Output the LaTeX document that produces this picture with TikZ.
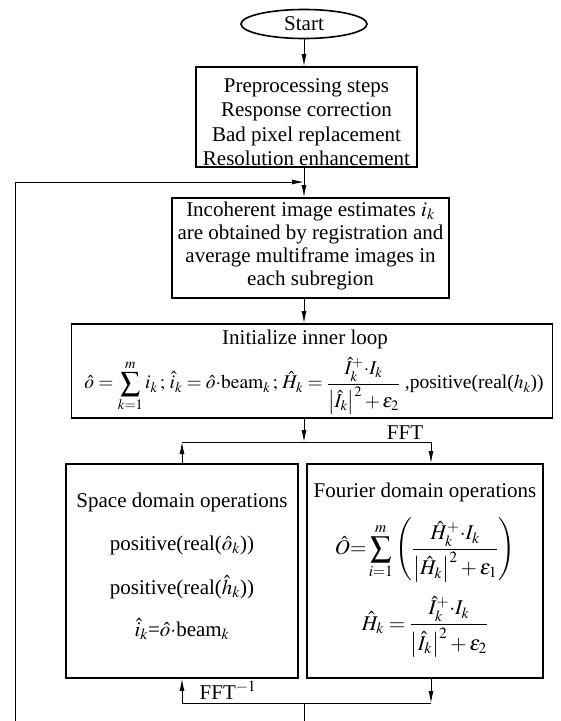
\documentclass[tikz,border=0pt]{standalone}
\usepackage{amsmath}
\usepackage{mathptmx}
\usepackage[no-math]{fontspec}
\setmainfont{Liberation Serif}
\usetikzlibrary{arrows.meta,shapes.geometric}
\tikzset{
  boxstyle/.style={draw, line width=1.8pt, rectangle, inner sep=0pt},
  txt/.style={inner sep=0pt, align=center, font=\fontsize{21}{24.5}\selectfont},
  conn/.style={line width=0.9pt},
  arr/.style={conn, -{Latex[length=12pt,width=5pt]}},
}
\begin{document}
\begin{tikzpicture}[x=1pt,y=-1pt]
\useasboundingbox (0,0) rectangle (561,721);
% boxes
\node[draw, line width=1.6pt, ellipse, minimum width=126pt, minimum height=29pt, inner sep=0pt, font=\fontsize{21}{24}\selectfont] (start) at (304,24) {Start};
\node[boxstyle, minimum width=221pt, minimum height=100pt] (pre) at (306.5,117) {};
\node[txt] (pret) at (306.5,122) {Preprocessing steps\\Response correction\\Bad pixel replacement\\Resolution enhancement};
\node[boxstyle, minimum width=277pt, minimum height=100pt] (inc) at (310.5,248) {};
\node[txt, font=\fontsize{21}{23.3}\selectfont] (inct) at (310.5,246) {Incoherent image estimates $i_k$\\are obtained by registration and\\average multiframe images in\\each subregion};
\node[boxstyle, minimum width=481pt, minimum height=94pt] (init) at (312,371) {};
\node[txt] (initt) at (305,339) {Initialize inner loop};
\node[txt, font=\fontsize{19.5}{23}\selectfont] (initf) at (314,386) {$\displaystyle \hat{o}=\sum_{k=1}^{m} i_k\,;\,\hat{i}_k=\hat{o}{\cdot}\mathrm{beam}_k\,;\,\hat{H}_k=\frac{\hat{I}_k^{+}{\cdot}I_k}{\bigl|\hat{I}_k\bigr|^2+\varepsilon_2}$ ,positive(real($h_k$))};
\node[boxstyle, minimum width=232pt, minimum height=214pt] (space) at (182,571) {};
\node[txt] (s1) at (182,502) {Space domain operations};
\node[txt] (s2) at (182,545) {positive(real($\hat{o}_k$))};
\node[txt] (s3) at (182,587) {positive(real($\hat{h}_k$))};
\node[txt] (s4) at (182,629) {$\hat{i}_k$=$\hat{o}{\cdot}$beam$_k$};
\node[boxstyle, minimum width=236pt, minimum height=214pt] (four) at (425,571) {};
\node[txt] (f1) at (425,492) {Fourier domain operations};
\node[txt] (f2) at (425,550) {$\displaystyle \hat{O}{=}\sum_{i=1}^{m}\left(\frac{\hat{H}_k^{+}{\cdot}I_k}{\bigl|\hat{H}_k\bigr|^2+\varepsilon_1}\right)$};
\node[txt] (f3) at (425,627) {$\displaystyle \hat{H}_k=\frac{\hat{I}_k^{+}{\cdot}I_k}{\bigl|\hat{I}_k\bigr|^2+\varepsilon_2}$};
% labels
\node[txt] (fft) at (405,433) {FFT};
\node[txt] (ifft) at (228,690) {FFT$^{-1}$};
% coordinates
\coordinate (fbbot) at (15,721);
\coordinate (fbtop) at (15,182);
\coordinate (fbend) at (304,182);
\coordinate (jtop) at (304,442);
\coordinate (tl) at (182,442);
\coordinate (tr) at (431,442);
\coordinate (jbot) at (304,703);
\coordinate (bl) at (182,703);
\coordinate (br) at (431,703);
\coordinate (out) at (304,721);
% connectors
\draw[arr] (start.south -| fbend) -- (fbend |- pre.north);
\draw[arr] (fbend |- pre.south) -- (fbend |- inc.north);
\draw[arr] (fbbot) -- (fbtop) -- (fbend);
\draw[arr] (fbend |- inc.south) -- (fbend |- init.north);
\draw[arr] (fbend |- init.south) -- (jtop);
\draw[conn] (tl) -- (tr);
\draw[arr] (tl |- space.north) -- (tl);
\draw[arr] (tr) -- (tr |- four.north);
\draw[arr] (bl) -- (bl |- space.south);
\draw[arr] (br |- four.south) -- (br);
\draw[conn] (bl) -- (br);
\draw[conn] (jbot) -- (out);
\end{tikzpicture}
\end{document}
